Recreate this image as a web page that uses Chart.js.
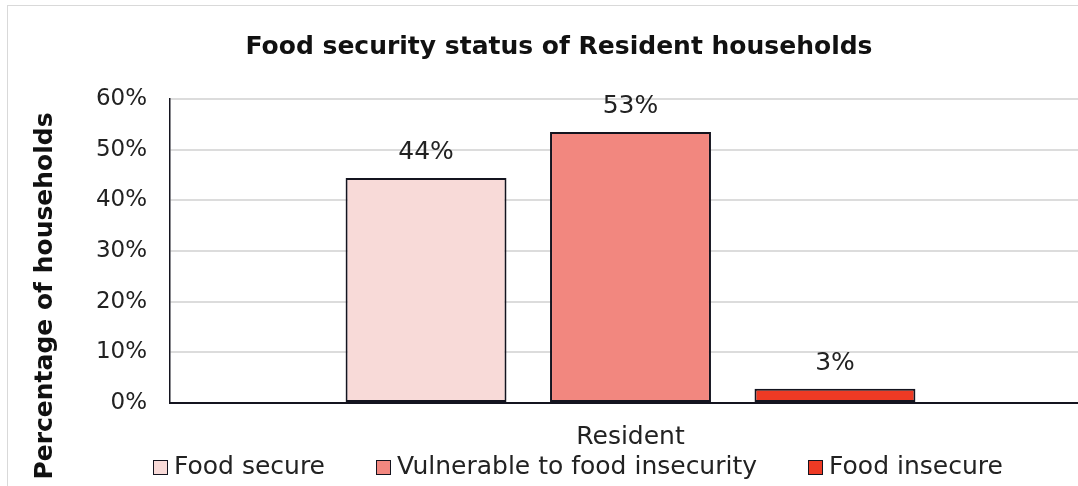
<!DOCTYPE html>
<html lang="en">
<head>
<meta charset="UTF-8" />
<title>Food security status of Resident households</title>
<style>
  html, body { margin: 0; background: #fff; overflow: hidden; font-family: 'DejaVu Sans', Verdana, sans-serif; }
  #wrap { position: relative; width: 1078px; height: 486px; overflow: hidden; }
  #frame { position: absolute; left: 7px; top: 5px; width: 1100px; height: 500px; border-left: 1px solid #d9d9d9; border-top: 1px solid #d9d9d9; }
  #chart { position: absolute; left: 0; top: 0; }
  #legend { position: absolute; left: 153px; top: 451px; display: flex; align-items: center; font-size: 25px; line-height: 30px; color: #222; }
  #legend .item { display: flex; align-items: center; margin-right: 51px; white-space: nowrap; }
  #legend .box { width: 13px; height: 13px; border: 1.5px solid #14141f; margin-right: 6px; margin-top: 2px; }
</style>
</head>
<body>
<div id="wrap">
  <div id="frame"></div>
  <canvas id="chart" width="1092" height="486"></canvas>
  <div id="legend"></div>
</div>
<script src="https://cdn.jsdelivr.net/npm/chart.js@4.4.0/dist/chart.umd.min.js"></script>
<script>
  // data
  const categories = ['Resident'];
  const seriesNames = ['Food secure', 'Vulnerable to food insecurity', 'Food insecure'];
  const seriesValues = [[44.4], [53.5], [2.8]];
  const seriesLabels = [['44%'], ['53%'], ['3%']];
  const seriesColors = ['#F8DAD8', '#F2877F', '#EE3A24'];
  const yTicks = [0, 10, 20, 30, 40, 50, 60];

  const font = "'DejaVu Sans', Verdana, sans-serif";

  // values above the bars
  const valueLabels = {
    id: 'valueLabels',
    afterDatasetsDraw(chart) {
      const ctx = chart.ctx;
      ctx.save();
      ctx.font = '25px ' + font;
      ctx.fillStyle = '#222';
      ctx.textAlign = 'center';
      ctx.textBaseline = 'alphabetic';
      chart.data.datasets.forEach((ds, i) => {
        chart.getDatasetMeta(i).data.forEach((bar, j) => {
          ctx.fillText(seriesLabels[i][j], bar.x, bar.y - 19);
        });
      });
      ctx.restore();
    }
  };

  // title and rotated axis title
  const titles = {
    id: 'titles',
    afterDraw(chart) {
      const ctx = chart.ctx;
      ctx.save();
      ctx.fillStyle = '#111';
      ctx.font = 'bold 25px ' + font;
      ctx.textAlign = 'center';
      ctx.textBaseline = 'alphabetic';
      ctx.fillText('Food security status of Resident households', 559, 54);
      ctx.translate(52, 296);
      ctx.rotate(-Math.PI / 2);
      ctx.fillText('Percentage of households', 0, 0);
      ctx.restore();
    }
  };

  const chart = new Chart(document.getElementById('chart'), {
    type: 'bar',
    data: {
      labels: categories,
      datasets: seriesNames.map((name, i) => ({
        label: name,
        data: seriesValues[i],
        backgroundColor: seriesColors[i],
        borderColor: '#14141f',
        borderWidth: 2,
        borderSkipped: false,
        barPercentage: 0.787,
        categoryPercentage: 0.666
      }))
    },
    options: {
      responsive: false,
      animation: false,
      layout: { padding: { left: 0, right: 1, top: 99, bottom: 15 } },
      plugins: {
        legend: { display: false },
        tooltip: { enabled: false }
      },
      scales: {
        x: {
          grid: { display: false, drawTicks: false },
          border: { color: '#14141f', width: 2 },
          ticks: { color: '#222', font: { family: font, size: 25 }, padding: 19 }
        },
        y: {
          min: 0,
          max: 60,
          afterFit(scale) { scale.width = 170; },
          afterBuildTicks(scale) { scale.ticks = yTicks.map(v => ({ value: v })); },
          ticks: {
            color: '#222',
            font: { family: font, size: 23 },
            padding: 23,
            callback: v => v + '%'
          },
          grid: { color: '#dcdcdc', lineWidth: 2, drawTicks: false },
          border: { color: '#14141f', width: 1.5 }
        }
      }
    },
    plugins: [valueLabels, titles]
  });

  // legend under the chart
  const legend = document.getElementById('legend');
  seriesNames.forEach((name, i) => {
    const item = document.createElement('div');
    item.className = 'item';
    const box = document.createElement('span');
    box.className = 'box';
    box.style.background = seriesColors[i];
    const text = document.createElement('span');
    text.textContent = name;
    item.appendChild(box);
    item.appendChild(text);
    legend.appendChild(item);
  });
</script>
</body>
</html>
